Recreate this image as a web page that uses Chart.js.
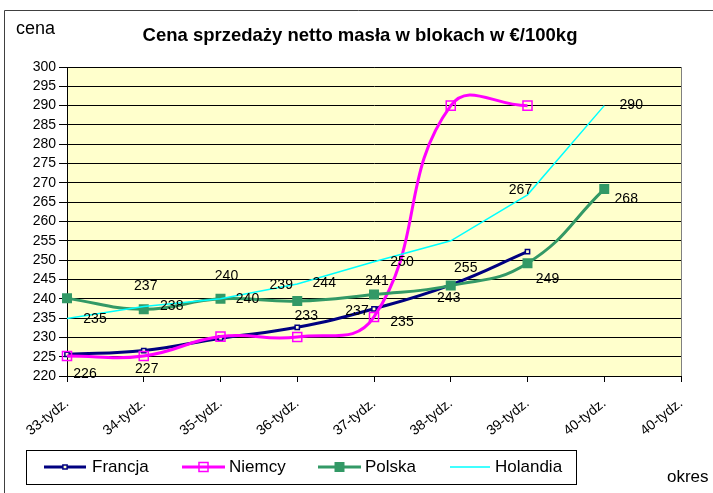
<!DOCTYPE html>
<html>
<head>
<meta charset="utf-8">
<script src="https://cdn.jsdelivr.net/npm/chart.js@4/dist/chart.umd.min.js"></script>
<style>
  html, body { margin: 0; padding: 0; background: #fff; }
  #wrap { width: 713px; height: 493px; position: relative; }
</style>
</head>
<body>
<div id="wrap"><canvas id="c1" width="713" height="493"></canvas></div>
<script>
// ── data ──────────────────────────────────────────────────
const weeks    = ['33-tydz.', '34-tydz.', '35-tydz.', '36-tydz.', '37-tydz.', '38-tydz.', '39-tydz.', '40-tydz.', '40-tydz.'];
const francja  = [225.6, 226.6, 229.8, 232.6, 237.4, 243.6, 252.2];
const niemcy   = [225.2, 225.2, 230.2, 230.1, 235.3, 290, 290];
const polska   = [240.1, 237.3, 240, 239.4, 241.1, 243.4, 249.2, 268.4];
const holandia = [234.9, 238, 240, 243.8, 249.6, 255, 266.9, 290];

const chartTitle = 'Cena sprzedaży netto masła w blokach w €/100kg';
const yTitle = 'cena';
const xTitle = 'okres';

// which points carry a value label, and where it sits relative to the point (px)
const francjaLbl  = [[0, 18, 20], [1, 3, 19], [3, 9, -11], [4, -17, 2]];
const niemcyLbl   = [[4, 28, 5]];
const polskaLbl   = [[1, 2, -23], [2, 6, -23], [3, -16, -16], [4, 3, -13], [5, -2, 13], [6, 20, 16], [7, 22, 10]];
const holandiaLbl = [[0, 28, 1], [1, 28, 0], [2, 27, 0], [3, 27, -1], [4, 28, 0], [5, 15, 27], [6, -7, -5], [7, 27, 0]];

const C = { fr: '#000080', de: '#FF00FF', pl: '#339966', nl: '#00FFFF', plot: '#FFFFCC' };
const FONT = '"Liberation Sans", Arial, sans-serif';

// ── plugins ───────────────────────────────────────────────
const frame = {
  id: 'frame',
  beforeDraw(chart) {
    const { ctx, chartArea: a } = chart;
    ctx.save();
    ctx.fillStyle = '#fff';
    ctx.fillRect(0, 0, chart.width, chart.height);
    ctx.strokeStyle = '#404040';
    ctx.lineWidth = 1;
    ctx.beginPath();
    ctx.moveTo(4.5, chart.height); ctx.lineTo(4.5, 10.5); ctx.lineTo(chart.width, 10.5);
    ctx.stroke();
    ctx.fillStyle = C.plot;
    ctx.fillRect(a.left, a.top, a.right - a.left, a.bottom - a.top);
    ctx.strokeStyle = '#808080';
    ctx.strokeRect(a.left + 0.5, a.top + 0.5, a.right - a.left, a.bottom - a.top);
    ctx.restore();
  },
  afterDraw(chart) {
    const ctx = chart.ctx;
    ctx.save();
    ctx.fillStyle = '#000';
    ctx.textBaseline = 'middle';
    ctx.textAlign = 'center';
    ctx.font = 'bold 18.5px ' + FONT;
    ctx.fillText(chartTitle, 360, 36);
    ctx.textAlign = 'left';
    ctx.font = '18px ' + FONT;
    ctx.fillText(yTitle, 16, 29);
    ctx.font = '17px ' + FONT;
    ctx.fillText(xTitle, 667, 477);

    // legend
    ctx.strokeStyle = '#000';
    ctx.lineWidth = 1;
    ctx.strokeRect(26.5, 450.5, 550, 34);
    const items = [[44, 86, 92], [182, 225, 229], [318, 361, 365], [450, 490, 495]];
    chart.data.datasets.forEach((ds, i) => {
      const [x0, x1, tx] = items[i];
      const y = 467;
      ctx.strokeStyle = ds.borderColor;
      ctx.lineWidth = ds.borderWidth;
      ctx.beginPath(); ctx.moveTo(x0, y); ctx.lineTo(x1, y); ctx.stroke();
      if (ds.pointRadius > 0) {
        const s = Math.SQRT1_2 * ds.pointRadius, cx = (x0 + x1) / 2;
        ctx.lineWidth = ds.pointBorderWidth;
        ctx.fillStyle = ds.pointBackgroundColor;
        ctx.beginPath(); ctx.rect(cx - s, y - s, 2 * s, 2 * s);
        ctx.fill(); ctx.stroke();
      }
      ctx.fillStyle = '#000';
      ctx.font = '17px ' + FONT;
      ctx.fillText(ds.label, tx, y);
    });
    ctx.restore();
  },
  afterDatasetsDraw(chart) {
    const ctx = chart.ctx;
    ctx.save();
    ctx.font = '14px ' + FONT;
    ctx.fillStyle = '#000';
    ctx.textAlign = 'center';
    ctx.textBaseline = 'middle';
    chart.data.datasets.forEach((ds, i) => {
      const pts = chart.getDatasetMeta(i).data;
      ds.valueLabels.forEach(([idx, dx, dy]) => {
        const p = pts[idx];
        ctx.fillText(Math.round(ds.data[idx]), p.x + dx, p.y + dy);
      });
    });
    ctx.restore();
  }
};

const lineDs = (label, data, color, width, opts) => Object.assign({
  label, data, borderColor: color, borderWidth: width,
  backgroundColor: 'transparent', pointStyle: 'rect',
  pointBorderColor: color, pointBorderWidth: 1.5,
  tension: 0.45, spanGaps: false
}, opts);

new Chart(document.getElementById('c1'), {
  type: 'line',
  data: {
    labels: weeks,
    datasets: [
      lineDs('Francja', francja, C.fr, 3, { pointRadius: 3, pointBackgroundColor: C.plot, valueLabels: francjaLbl, order: 3 }),
      lineDs('Niemcy', niemcy, C.de, 3, { pointRadius: 6.4, pointBackgroundColor: 'rgba(0,0,0,0)', valueLabels: niemcyLbl, order: 2 }),
      lineDs('Polska', polska, C.pl, 3, { pointRadius: 6, pointBackgroundColor: C.pl, valueLabels: polskaLbl, order: 1 }),
      lineDs('Holandia', holandia, C.nl, 1.5, { pointRadius: 0, tension: 0, pointBackgroundColor: C.nl, valueLabels: holandiaLbl, order: 0 })
    ]
  },
  options: {
    responsive: false, animation: false,
    layout: { padding: { left: 0, right: 32, top: 67, bottom: 0 } },
    plugins: { legend: { display: false }, title: { display: false }, tooltip: { enabled: false } },
    scales: {
      x: {
        offset: false,
        grid: { drawOnChartArea: false, color: '#000', tickLength: 6 },
        border: { color: '#000' },
        ticks: { color: '#000', font: { family: FONT, size: 14 }, minRotation: 39, maxRotation: 39, autoSkip: false, padding: 13 },
        afterFit: s => { s.height = 117; }
      },
      y: {
        min: 220, max: 300,
        grid: { color: '#000', tickLength: 8 },
        border: { color: '#000' },
        ticks: { stepSize: 5, autoSkip: false, color: '#000', font: { family: FONT, size: 14 }, padding: 3 },
        afterFit: s => { s.width = 67; }
      }
    }
  },
  plugins: [frame]
});
</script>
</body>
</html>
